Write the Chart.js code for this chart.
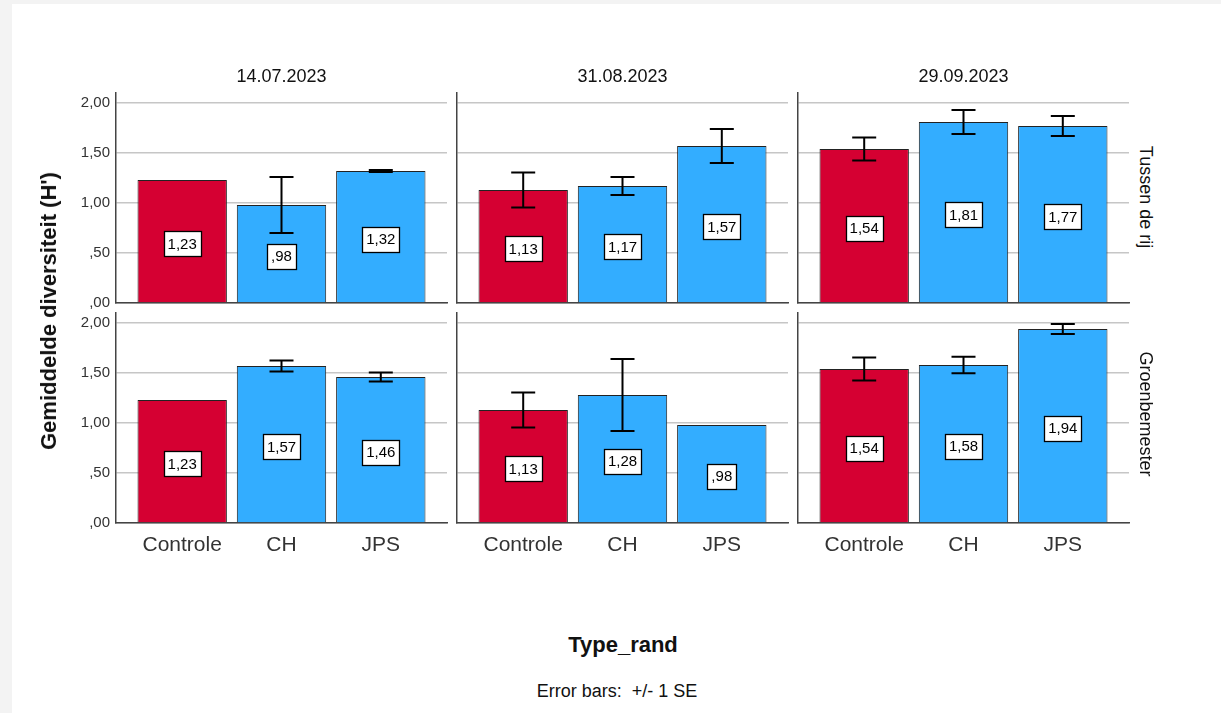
<!DOCTYPE html>
<html>
<head>
<meta charset="utf-8">
<script src="https://cdn.jsdelivr.net/npm/chart.js@4.4.0/dist/chart.umd.min.js"></script>
<style>
  html, body { margin: 0; padding: 0; background: #f3f3f3; width: 1221px; height: 713px; overflow: hidden; }
  #sheet { position: absolute; left: 12px; top: 4px; right: 0; bottom: 0; background: #fff; }
  canvas { position: absolute; }
  .txt { position: absolute; font-family: "Liberation Sans", Arial, sans-serif; line-height: 1; white-space: pre; color: #111; transform: translate(-50%, -50%); }
</style>
</head>
<body>
<div id="sheet"></div>
<script>
const categories = ['Controle', 'CH', 'JPS'];
const dates = ['14.07.2023', '31.08.2023', '29.09.2023'];
const rowNames = ['Tussen de rij', 'Groenbemester'];
const yTicks = [0, 0.5, 1, 1.5, 2];

// per date: Controle, CH, JPS
const tussenMeans = [[1.23, 0.98, 1.32], [1.13, 1.17, 1.57], [1.54, 1.81, 1.77]];
const tussenSE    = [[0, 0.28, 0.01], [0.175, 0.09, 0.17], [0.115, 0.12, 0.10]];
const groenMeans  = [[1.23, 1.57, 1.46], [1.13, 1.28, 0.98], [1.54, 1.58, 1.94]];
const groenSE     = [[0, 0.055, 0.045], [0.175, 0.36, 0], [0.115, 0.083, 0.05]];

const barColors = ['#d50032', '#33adff', '#33adff'];
const FONT = '"Liberation Sans", Arial, sans-serif';

Chart.defaults.font.family = FONT;

// panel geometry (plot areas)
const colLeft = [116, 457, 798];
const panelW = 331;
const rowTop = [93, 313];
const panelH = 210;

const fmt = v => v.toFixed(2).replace('.', ',').replace(/^0,/, ',');

function addText(str, x, y, size, opts = {}) {
  const d = document.createElement('div');
  d.className = 'txt';
  d.textContent = str;
  d.style.left = x + 'px';
  d.style.top = y + 'px';
  d.style.fontSize = size + 'px';
  if (opts.bold) d.style.fontWeight = 'bold';
  if (opts.rotate) d.style.transform = 'translate(-50%, -50%) rotate(' + opts.rotate + 'deg)';
  document.body.appendChild(d);
}

function makePanel(r, c, means, se) {
  const yW = c === 0 ? 60 : 4;
  const xH = r === 1 ? 46 : 12;
  const padT = 10, padR = 4;
  const cv = document.createElement('canvas');
  const w = yW + panelW + padR, h = padT + panelH + xH;
  cv.width = w; cv.height = h;
  cv.style.width = w + 'px'; cv.style.height = h + 'px';
  cv.style.left = (colLeft[c] - yW) + 'px';
  cv.style.top = (rowTop[r] - padT) + 'px';
  document.body.appendChild(cv);

  const seBars = {
    id: 'seBars',
    afterDatasetsDraw(chart) {
      const ctx = chart.ctx;
      const ys = chart.scales.y;
      const meta = chart.getDatasetMeta(0);
      ctx.save();
      meta.data.forEach((bar, i) => {
        const m = means[i], e = se[i];
        if (e > 0) {
          const yt = ys.getPixelForValue(m + e), yb = ys.getPixelForValue(m - e);
          ctx.strokeStyle = '#000';
          ctx.lineWidth = 2;
          ctx.beginPath();
          ctx.moveTo(bar.x, yt); ctx.lineTo(bar.x, yb);
          ctx.moveTo(bar.x - 12, yt); ctx.lineTo(bar.x + 12, yt);
          ctx.moveTo(bar.x - 12, yb); ctx.lineTo(bar.x + 12, yb);
          ctx.stroke();
        }
        // value label box
        ctx.font = '15px ' + FONT;
        const txt = fmt(m);
        const tw = ctx.measureText(txt).width;
        const bw = Math.round(tw + 8), bh = 25;
        const cy = ys.getPixelForValue(m / 2) + 2;
        const bx = Math.round(bar.x - bw / 2) + 0.5, by = Math.round(cy - bh / 2) + 0.5;
        ctx.fillStyle = '#fff';
        ctx.fillRect(bx, by, bw, bh);
        ctx.strokeStyle = '#000';
        ctx.lineWidth = 1.3;
        ctx.strokeRect(bx, by, bw, bh);
        ctx.fillStyle = '#000';
        ctx.textAlign = 'center';
        ctx.textBaseline = 'middle';
        ctx.fillText(txt, bar.x, cy + 1);
      });
      ctx.restore();
    }
  };

  new Chart(cv, {
    type: 'bar',
    data: {
      datasets: [{
        data: means.map((m, i) => ({ x: i, y: m })),
        backgroundColor: barColors,
        borderColor: '#222',
        borderWidth: 1,
        barPercentage: 0.9,
        categoryPercentage: 1
      }]
    },
    options: {
      responsive: false,
      devicePixelRatio: 1,
      animation: false,
      layout: { padding: { top: padT, right: padR, left: 0, bottom: 0 } },
      plugins: { legend: { display: false }, tooltip: { enabled: false } },
      scales: {
        x: {
          type: 'linear',
          offset: false,
          min: -2 / 3,
          max: 8 / 3,
          afterBuildTicks: s => { s.ticks = categories.map((_, i) => ({ value: i })); },
          afterFit: s => { s.height = xH; s.paddingLeft = 0; s.paddingRight = 0; },
          grid: { display: false, drawTicks: false },
          border: { display: true, color: '#444', width: 1.5 },
          ticks: {
            display: r === 1, autoSkip: false, maxRotation: 0, padding: 10,
            color: '#333', font: { size: 21 },
            callback: v => categories[v]
          }
        },
        y: {
          min: 0,
          max: 2.1,
          afterBuildTicks: s => { s.ticks = yTicks.map(v => ({ value: v })); },
          afterFit: s => { s.width = yW; s.paddingTop = 0; s.paddingBottom = 0; },
          grid: { color: '#c6c6c6', lineWidth: 1.5, drawTicks: false },
          border: { display: true, color: '#444', width: 1.5 },
          ticks: {
            display: c === 0, padding: 6, color: '#333', font: { size: 15 },
            callback: v => fmt(v)
          }
        }
      }
    },
    plugins: [seBars]
  });
}

const meansByRow = [tussenMeans, groenMeans];
const seByRow = [tussenSE, groenSE];
for (let r = 0; r < 2; r++) {
  for (let c = 0; c < 3; c++) {
    makePanel(r, c, meansByRow[r][c], seByRow[r][c]);
  }
}

// facet titles
dates.forEach((d, c) => addText(d, colLeft[c] + panelW / 2, 76, 18));
addText(rowNames[0], 1146, 197, 18, { rotate: 90 });
addText(rowNames[1], 1146, 414, 18, { rotate: 90 });

// axis titles and footnote
addText("Gemiddelde diversiteit (H')", 49, 311, 22, { bold: true, rotate: -90 });
addText('Type_rand', 623, 645, 22, { bold: true });
addText('Error bars:  +/- 1 SE', 617, 691, 18);
</script>
</body>
</html>
